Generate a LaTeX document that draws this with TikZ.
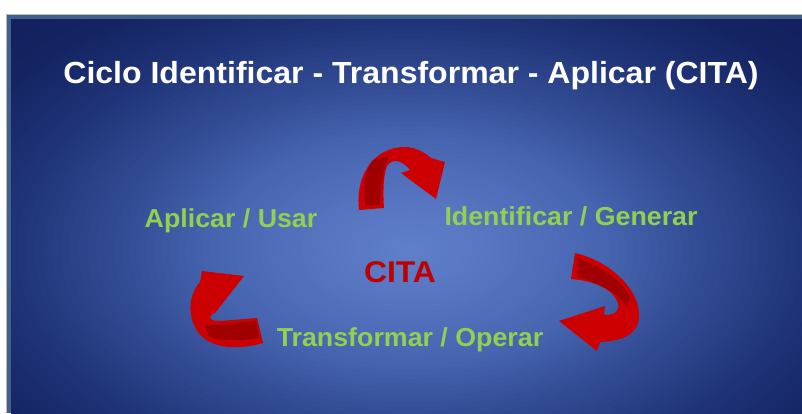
\documentclass[tikz,border=0pt]{standalone}
\usepackage{fontspec}
\setmainfont{Liberation Sans}
% background ramp, from the rim to the centre
\definecolor{bgA}{RGB}{17,30,90}
\definecolor{bgB}{RGB}{20,36,98}
\definecolor{bgC}{RGB}{28,48,115}
\definecolor{bgD}{RGB}{50,76,148}
\definecolor{bgE}{RGB}{70,100,175}
\definecolor{bgF}{RGB}{85,115,190}
\definecolor{bgG}{RGB}{96,127,201}
\definecolor{framecol}{RGB}{66,96,140}
\definecolor{labelgreen}{RGB}{146,208,80}
\definecolor{citared}{RGB}{192,0,0}
\definecolor{arrowred}{RGB}{204,0,0}
\definecolor{arrowdark}{RGB}{160,0,0}
% one band of concentric ellipses blending #3 (at radius #1) into #4 (at radius #2)
\newcommand\glowband[5]{%
  \foreach \k in {0,...,#5}{%
    \pgfmathsetmacro\rr{#1-(#1-#2)*\k/#5}%
    \pgfmathtruncatemacro\pp{100*\k/#5}%
    \fill[#4!\pp!#3] (410,250) ellipse [x radius={\rr*400pt}, y radius={\rr*230pt}];
  }}
\tikzset{
  titletext/.style={anchor=base, inner sep=0pt, text=white,
    font=\bfseries\fontsize{30.5}{36}\selectfont, xscale=1.05},
  phase/.style={anchor=base, inner sep=0pt, text=labelgreen,
    font=\bfseries\fontsize{26}{30}\selectfont, xscale=1.03},
  centre/.style={anchor=base, inner sep=0pt, text=citared,
    font=\bfseries\fontsize{30}{34}\selectfont, xscale=1.06},
  arrowbody/.style={fill=arrowred},
  arrowface/.style={fill=arrowdark}
}
\begin{document}
\begin{tikzpicture}[x=1pt,y=-1pt]
\useasboundingbox (0,0) rectangle (802,413);
\fill[white] (0,0) rectangle (802,413);
% slide frame
\fill[framecol] (6,14) rectangle (802,413);
\draw[gray!55, line width=0.8pt] (6.4,413) -- (6.4,14.4) -- (802,14.4);
% radial glow of the slide
\begin{scope}
  \clip (11,19) rectangle (802,413);
  \fill[bgA] (11,19) rectangle (802,413);
  \glowband{1.55}{1.25}{bgA}{bgB}{10}
  \glowband{1.25}{1.05}{bgB}{bgC}{10}
  \glowband{1.05}{0.74}{bgC}{bgD}{14}
  \glowband{0.74}{0.50}{bgD}{bgE}{12}
  \glowband{0.50}{0.25}{bgE}{bgF}{12}
  \glowband{0.25}{0.02}{bgF}{bgG}{12}
\end{scope}

% texts
\node[titletext] (title) at (411,83) {Ciclo Identificar - Transformar - Aplicar (CITA)};
\node[phase] (aplicar) at (231,227) {Aplicar / Usar};
\node[phase] (identificar) at (571,225) {Identificar / Generar};
\node[phase] (transformar) at (410,346) {Transformar / Operar};
\node[centre] (cita) at (400,282) {CITA};

% top curved arrow
\fill[arrowbody] (359,210) .. controls (355,175) and (374,147) .. (405,147)
  .. controls (415,147) and (424,152) .. (431,158) -- (445,162) -- (436,199)
  -- (401,173) -- (410,170) .. controls (403,161) and (393,157) .. (387,166)
  .. controls (383,175) and (383,195) .. (384,208) -- cycle;
\fill[arrowface] (365,206) .. controls (363,185) and (365,170) .. (373,160)
  -- (389,156) .. controls (382,172) and (380,190) .. (380,205) -- cycle;

% right curved arrow
\fill[arrowbody] (575,253) .. controls (610,261) and (641,290) .. (639,318)
  .. controls (638,332) and (626,341) .. (600,342) -- (597,351) -- (559,321)
  -- (605,306) -- (604,315) .. controls (615,315) and (620,311) .. (618,303)
  .. controls (613,289) and (595,281) .. (571,279) -- cycle;
\fill[arrowface] (577,258) .. controls (600,266) and (622,280) .. (630,297)
  -- (628,308) .. controls (620,295) and (600,283) .. (578,277) -- cycle;

% left curved arrow
\fill[arrowbody] (263,343) .. controls (235,351) and (204,349) .. (194,325)
  .. controls (187,308) and (191,292) .. (200,282) -- (202,271) -- (244,276)
  -- (215,313) -- (212,314) .. controls (208,318) and (210,321) .. (220,321)
  -- (257,318) -- cycle;
\fill[arrowface] (204,326) -- (256,321) -- (259,338) .. controls (240,341) and (220,341) .. (210,337) -- cycle;
\end{tikzpicture}
\end{document}
